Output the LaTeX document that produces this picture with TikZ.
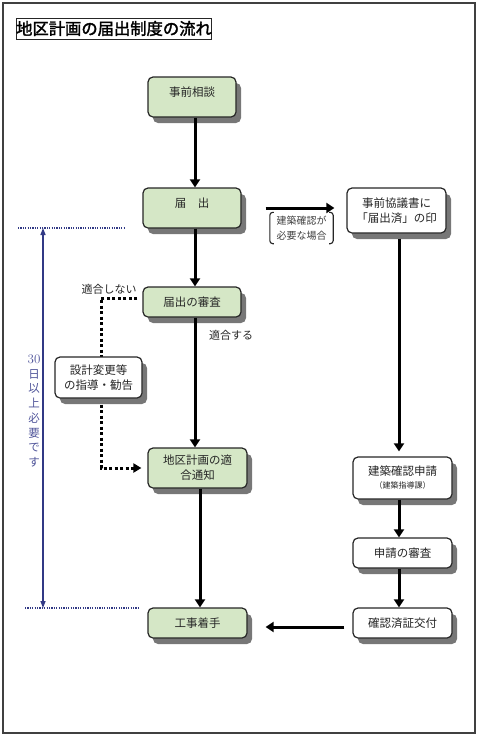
\documentclass[tikz,border=0pt]{standalone}
\usepackage{fontspec}
\newfontfamily\jp{Noto Sans CJK JP}
\newfontfamily\jpbold[FakeBold=2]{Noto Sans CJK JP}
\usetikzlibrary{arrows.meta,shadows,calc}
\definecolor{boxgreen}{HTML}{D5E7C6}
\definecolor{navy}{HTML}{313985}
\definecolor{navytext}{HTML}{50559A}
\definecolor{shadowgray}{HTML}{777777}
\tikzset{
  box/.style={draw=black!85, line width=1.2pt, rounded corners=5pt, inner sep=0pt,
    font=\jp\fontsize{11.5}{15}\selectfont, text=black!85,
    drop shadow={shadow xshift=5pt, shadow yshift=-6pt, fill=shadowgray, opacity=1}},
  gbox/.style={box, fill=boxgreen},
  wbox/.style={box, fill=white},
  arr/.style={line width=3pt, -{Triangle[length=8pt,width=10pt]}},
  dotarr/.style={line width=3pt, line cap=butt, dash pattern=on 3pt off 2.5pt, -{Triangle[length=8pt,width=9pt]}},
  bluearr/.style={navy, line width=1.3pt, {Triangle[length=7pt,width=5pt]}-{Triangle[length=7pt,width=5pt]}},
  bluedot/.style={navy, line width=1.2pt, dash pattern=on 1.2pt off 1.2pt},
  lbl/.style={font=\jp\fontsize{11}{13}\selectfont, text=black!85, inner sep=0pt},
  brk/.style={draw=black!85, line width=1.1pt, rounded corners=3pt},
}
\begin{document}
\begin{tikzpicture}[x=1pt,y=-1pt]
\useasboundingbox (0,0) rectangle (480,737);
\draw[draw=black!75, line width=1.3pt] (3,3) rectangle (475,733);

\node[draw=black!85, line width=0.9pt, inner sep=0pt, minimum width=188pt, minimum height=21pt,
      font=\jpbold\fontsize{16.3}{18}\selectfont] (title) at (114,28.5) {地区計画の届出制度の流れ};

% main column
\node[gbox, minimum width=88pt, minimum height=40pt, text height=9pt, text depth=10pt] (sodan) at (192,97) {事前相談};
\node[gbox, minimum width=98pt, minimum height=40pt, text height=9pt, text depth=10pt] (todoke) at (192,208) {届　出};
\node[gbox, minimum width=98pt, minimum height=30pt] (shinsa) at (192,302) {届出の審査};
\node[gbox, minimum width=99pt, minimum height=40pt, align=center] (tekigo) at (197.5,468) {地区計画の適\\合通知};
\node[gbox, minimum width=99pt, minimum height=30pt] (chakushu) at (197.5,623) {工事着手};

% right column
\node[wbox, minimum width=99pt, minimum height=45pt, align=center] (kyogi) at (396.5,210.5) {事前協議書に\\「届出済」の印};
\node[wbox, minimum width=99pt, minimum height=42pt, align=center] (kakunin) at (402.5,478) {建築確認申請\\[-2pt]{\fontsize{8}{9}\selectfont（建築指導課）}};
\node[wbox, minimum width=99pt, minimum height=30pt] (shinsei) at (402.5,553) {申請の審査};
\node[wbox, minimum width=99pt, minimum height=30pt] (kofu) at (402.5,623) {確認済証交付};

% dotted feedback path (drawn before the box that covers it)
\coordinate (d1) at (101,298);
\draw[dotarr] ([xshift=-5pt,yshift=4pt]shinsa.west) -- (d1) |- ([xshift=-6pt]tekigo.west);
\node[wbox, minimum width=87pt, minimum height=41pt, align=center] (henko) at (98.5,377.5) {設計変更等\\の指導・勧告};

% arrows
\draw[arr] ([xshift=3pt]sodan.south) -- ([xshift=3pt]todoke.north);
\draw[arr] ([xshift=3pt]todoke.south) -- ([xshift=3pt]shinsa.north);
\draw[arr] ([xshift=3pt]shinsa.south) -- ([xshift=-2.5pt]tekigo.north);
\draw[arr] ([xshift=2.5pt]tekigo.south) -- ([xshift=2.5pt]chakushu.north);
\draw[arr] ([xshift=24pt]todoke.east) -- ([xshift=-12pt]todoke.east -| kyogi.west);
\draw[arr] ([xshift=2.5pt,yshift=-5pt]kyogi.south) -- ([xshift=-3.5pt,yshift=5pt]kakunin.north);
\draw[arr] ([xshift=-3.5pt]kakunin.south) -- ([xshift=-3.5pt]shinsei.north);
\draw[arr] ([xshift=-3.5pt]shinsei.south) -- ([xshift=-3.5pt]kofu.north);
\draw[arr] ([xshift=-8pt,yshift=-4pt]kofu.west) -- ([xshift=18pt,yshift=-4pt]chakushu.east);

% labels
\node[lbl] (ng) at (109,289) {適合しない};
\node[lbl] (ok) at (231,335) {適合する};

% condition label with brackets
\node[font=\jp\fontsize{10}{15}\selectfont, text=black!75, align=center, inner sep=0pt,
      minimum width=63pt, minimum height=31pt] (cond) at (301.5,228) {建築確認が\\必要な場合};
\draw[brk] ([xshift=4pt]cond.north west) -- (cond.north west) -- (cond.south west) -- ([xshift=4pt]cond.south west);
\draw[brk] ([xshift=-4pt]cond.north east) -- (cond.north east) -- (cond.south east) -- ([xshift=-4pt]cond.south east);

% 30 days indicator
\coordinate (t1) at (18,228);
\coordinate (t2) at (125,228);
\coordinate (b1) at (25,608);
\coordinate (b2) at (138,608);
\coordinate (t30) at (43,228);
\coordinate (b30) at (43,608);
\draw[bluedot] (t1) -- (t2);
\draw[bluedot] (b1) -- (b2);
\draw[bluearr] (t30) -- (b30);
\node[font=\jp\fontsize{11.5}{14.7}\selectfont, text=navytext, align=center, inner sep=0pt] (days) at (34,411)
  {{\rmfamily\fontsize{13}{14.7}\selectfont 30}\\日\\以\\上\\必\\要\\で\\す};
\end{tikzpicture}
\end{document}
